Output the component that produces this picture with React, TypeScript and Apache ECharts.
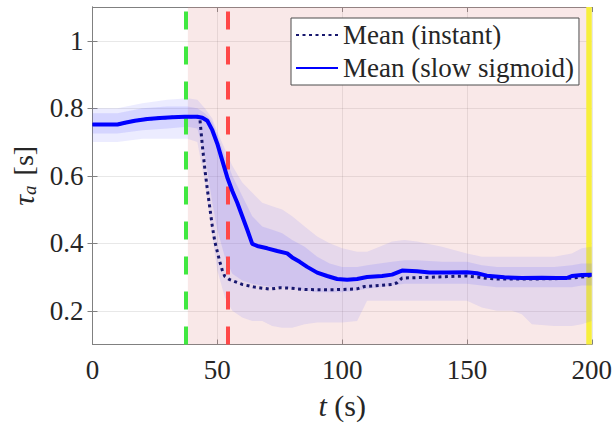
import React, { useEffect, useRef } from "react";
import * as echarts from "echarts";

const FONT = "'Liberation Serif', 'Times New Roman', serif";

// Mean (slow sigmoid)
const T_SLOW = [0, 10, 13, 17, 22, 27, 32, 37, 42, 44, 46, 48, 50, 52, 54, 56, 58, 60, 62, 64, 66, 70, 74, 78, 80, 83, 86, 90, 94, 98, 102, 106, 110, 116, 120, 122, 124, 130, 135, 142, 150, 154, 158, 165, 172, 180, 186, 190, 192, 196, 200];
const V_SLOW = [0.752, 0.752, 0.757, 0.763, 0.768, 0.771, 0.773, 0.775, 0.775, 0.772, 0.763, 0.735, 0.695, 0.645, 0.595, 0.555, 0.52, 0.48, 0.44, 0.398, 0.392, 0.385, 0.377, 0.37, 0.358, 0.345, 0.33, 0.313, 0.303, 0.294, 0.292, 0.294, 0.3, 0.303, 0.307, 0.313, 0.319, 0.317, 0.313, 0.313, 0.314, 0.311, 0.304, 0.299, 0.297, 0.298, 0.297, 0.297, 0.303, 0.306, 0.307];

// Mean (instant)
const T_INST = [0, 10, 13, 17, 22, 27, 32, 37, 42, 43, 44, 45, 46, 47, 48, 49, 50, 51, 52, 53, 55, 60, 65, 71, 75, 79, 85, 94, 100, 106, 109, 115, 120, 122, 124, 130, 135, 145, 150, 154, 158, 162, 175, 185, 190, 195, 200];
const V_INST = [0.752, 0.752, 0.757, 0.763, 0.768, 0.771, 0.773, 0.775, 0.775, 0.77, 0.69, 0.62, 0.56, 0.505, 0.45, 0.405, 0.375, 0.345, 0.32, 0.302, 0.292, 0.278, 0.27, 0.264, 0.268, 0.267, 0.263, 0.262, 0.263, 0.265, 0.272, 0.275, 0.278, 0.283, 0.297, 0.298, 0.299, 0.302, 0.303, 0.3, 0.296, 0.294, 0.294, 0.295, 0.296, 0.299, 0.304];

// spread of the individual runs
const BAND_T = [0, 10, 20, 30, 38, 42, 45, 48, 50, 53, 56, 60, 64, 68, 72, 76, 80, 85, 90, 95, 100, 106, 110, 115, 120, 125, 130, 140, 150, 156, 162, 168, 172, 176, 185, 192, 196, 200];
const OUTER_LO = [0.7, 0.7, 0.71, 0.71, 0.71, 0.7, 0.58, 0.42, 0.32, 0.24, 0.2, 0.18, 0.17, 0.17, 0.155, 0.15, 0.15, 0.16, 0.165, 0.165, 0.165, 0.17, 0.23, 0.23, 0.23, 0.23, 0.23, 0.23, 0.23, 0.21, 0.2, 0.2, 0.19, 0.16, 0.155, 0.155, 0.16, 0.17];
const OUTER_HI = [0.8, 0.8, 0.815, 0.825, 0.83, 0.825, 0.8, 0.77, 0.73, 0.68, 0.63, 0.58, 0.55, 0.52, 0.51, 0.5, 0.48, 0.45, 0.42, 0.4, 0.385, 0.375, 0.375, 0.39, 0.405, 0.41, 0.405, 0.39, 0.37, 0.36, 0.36, 0.36, 0.36, 0.36, 0.36, 0.37, 0.385, 0.39];
const INNER_LO = [0.725, 0.725, 0.735, 0.74, 0.745, 0.74, 0.66, 0.52, 0.44, 0.36, 0.31, 0.29, 0.28, 0.275, 0.27, 0.27, 0.265, 0.26, 0.255, 0.255, 0.255, 0.26, 0.265, 0.27, 0.275, 0.28, 0.28, 0.28, 0.28, 0.275, 0.27, 0.27, 0.27, 0.27, 0.27, 0.27, 0.275, 0.275];
const INNER_HI = [0.785, 0.785, 0.8, 0.805, 0.805, 0.8, 0.785, 0.76, 0.72, 0.66, 0.6, 0.54, 0.48, 0.45, 0.44, 0.43, 0.41, 0.39, 0.36, 0.34, 0.33, 0.33, 0.335, 0.34, 0.345, 0.35, 0.35, 0.345, 0.345, 0.335, 0.33, 0.33, 0.33, 0.33, 0.33, 0.335, 0.34, 0.34];

const Y_TICKS = [0.2, 0.4, 0.6, 0.8, 1];
const STIM_START = 37.5; // green dashed
const STIM_MID = 54; // red dashed
const PINK_RANGE = [38.2, 200];
const YELLOW_RANGE = [197.8, 200];

const pairs = (t: number[], v: number[]) => t.map((x, i) => [x, v[i]]);

function bandSeries(name: string, lo: number[], hi: number[], fill: string, z: number) {
  return {
    name,
    type: "custom",
    z,
    silent: true,
    clip: true,
    data: [[BAND_T[0], lo[0]]],
    renderItem: (_params: any, api: any) => {
      const pts: number[][] = [];
      for (let i = 0; i < BAND_T.length; i++) pts.push(api.coord([BAND_T[i], hi[i]]));
      for (let i = BAND_T.length - 1; i >= 0; i--) pts.push(api.coord([BAND_T[i], lo[i]]));
      return { type: "polygon", shape: { points: pts }, style: { fill } };
    },
  };
}

export default function App() {
  const ref = useRef<HTMLDivElement>(null);
  useEffect(() => {
    const chart = echarts.init(ref.current!, null, { renderer: "svg" });
    const axisColor = "#808080";
    const gridColor = "rgba(0,0,0,0.09)";
    const labelStyle = { fontFamily: FONT, fontSize: 27, color: "#262626" };
    chart.setOption({
      animation: false,
      grid: { left: 92, right: 23, top: 7, bottom: 82.5 },
      legend: {
        data: ["Mean (instant)", "Mean (slow sigmoid)"],
        orient: "vertical",
        left: 291,
        top: 18,
        itemWidth: 42,
        itemHeight: 14,
        itemGap: 5,
        padding: [3, 5, 3, 4],
        backgroundColor: "#ffffff",
        borderColor: "#4d4d4d",
        borderWidth: 1,
        borderRadius: 0,
        itemStyle: { opacity: 0 },
        textStyle: { fontFamily: FONT, fontSize: 27, color: "#262626", lineHeight: 28 },
      },
      xAxis: [
        {
          type: "value",
          min: 0,
          max: 200,
          interval: 50,
          axisLine: { lineStyle: { color: axisColor } },
          axisTick: { inside: true, length: 5, lineStyle: { color: axisColor } },
          axisLabel: { ...labelStyle, margin: 12 },
          splitLine: { show: true, lineStyle: { color: gridColor } },
          name: "{i|t} (s)",
          nameLocation: "middle",
          nameGap: 46,
          nameTextStyle: {
            fontFamily: FONT,
            fontSize: 30,
            color: "#262626",
            rich: { i: { fontFamily: FONT, fontSize: 30, fontStyle: "italic", color: "#262626" } },
          },
        },
        {
          type: "value",
          position: "top",
          min: 0,
          max: 200,
          interval: 50,
          axisLine: { show: true, lineStyle: { color: axisColor } },
          axisTick: { show: true, inside: true, length: 5, lineStyle: { color: axisColor } },
          axisLabel: { show: false },
          splitLine: { show: false },
        },
      ],
      yAxis: [
        {
          type: "value",
          min: 0.1,
          max: 1.1,
          splitNumber: 5,
          axisLine: { show: true, lineStyle: { color: axisColor } },
          axisTick: { show: true, inside: true, length: 5, customValues: Y_TICKS, lineStyle: { color: axisColor } },
          axisLabel: { ...labelStyle, margin: 9, customValues: Y_TICKS },
          splitLine: { show: true, lineStyle: { color: gridColor } },
          name: "{t|τ}{s|a} [s]",
          nameLocation: "middle",
          nameRotate: 90,
          nameGap: 54,
          nameTextStyle: {
            fontFamily: FONT,
            fontSize: 28,
            color: "#262626",
            rich: {
              t: { fontFamily: FONT, fontSize: 30, fontStyle: "italic", color: "#262626" },
              s: { fontFamily: FONT, fontSize: 19, fontStyle: "italic", color: "#262626", verticalAlign: "bottom", padding: [12, 3, 0, 0] },
            },
          },
        },
        {
          type: "value",
          position: "right",
          min: 0.1,
          max: 1.1,
          splitNumber: 5,
          axisLine: { show: true, lineStyle: { color: axisColor } },
          axisTick: { show: true, inside: true, length: 5, customValues: Y_TICKS, lineStyle: { color: axisColor } },
          axisLabel: { show: false },
          splitLine: { show: false },
        },
      ],
      series: [
        {
          name: "shade",
          type: "line",
          z: 1,
          data: [],
          symbol: "none",
          markArea: {
            silent: true,
            itemStyle: { color: "rgba(225,140,140,0.2)" },
            data: [[{ xAxis: PINK_RANGE[0] }, { xAxis: PINK_RANGE[1] }]],
          },
        },
        bandSeries("outerBand", OUTER_LO, OUTER_HI, "rgba(110,110,255,0.13)", 2),
        bandSeries("innerBand", INNER_LO, INNER_HI, "rgba(100,100,255,0.17)", 2),
        {
          name: "markers",
          type: "line",
          z: 3,
          data: [],
          symbol: "none",
          markLine: {
            silent: true,
            symbol: "none",
            label: { show: false },
            data: [
              { xAxis: STIM_START, lineStyle: { color: "#40e840", width: 4, type: [18, 17] } },
              { xAxis: STIM_MID, lineStyle: { color: "#ff4848", width: 4, type: [18, 17] } },
            ],
          },
        },
        {
          name: "Mean (instant)",
          type: "line",
          z: 4,
          data: pairs(T_INST, V_INST),
          symbol: "none",
          color: "#17176e",
          lineStyle: { color: "#17176e", width: 3, type: [3, 3.5] },
        },
        {
          name: "Mean (slow sigmoid)",
          type: "line",
          z: 5,
          data: pairs(T_SLOW, V_SLOW),
          symbol: "none",
          color: "#0000ff",
          lineStyle: { color: "#0000ff", width: 4 },
        },
        {
          name: "end",
          type: "line",
          z: 6,
          data: [],
          symbol: "none",
          markArea: {
            silent: true,
            itemStyle: { color: "#f7ef3c" },
            data: [[{ xAxis: YELLOW_RANGE[0] }, { xAxis: YELLOW_RANGE[1] }]],
          },
        },
      ],
    });
    return () => chart.dispose();
  }, []);
  return <div ref={ref} style={{ width: 615, height: 427, position: "absolute", left: 0, top: 0 }} />;
}
